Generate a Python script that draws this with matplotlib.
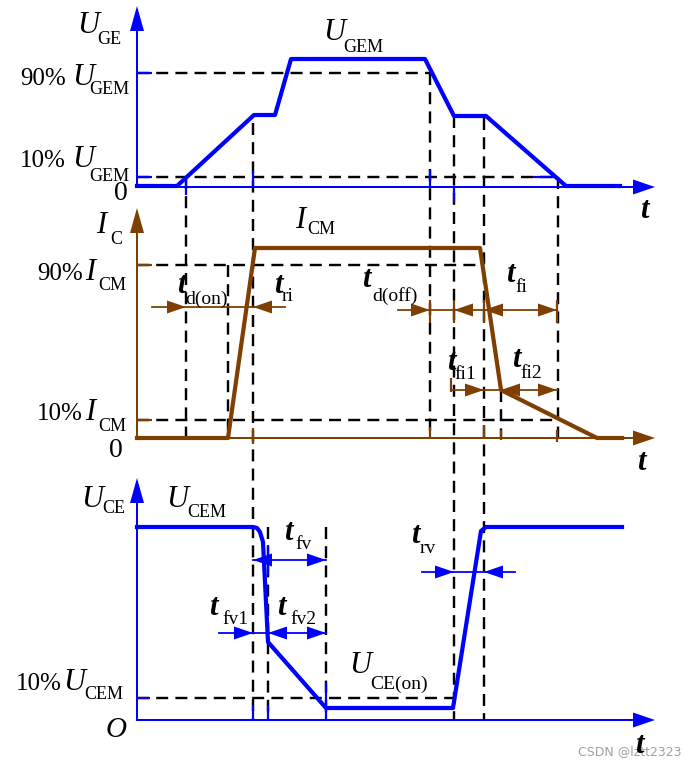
import matplotlib
matplotlib.use("Agg")
import matplotlib.pyplot as plt

BLUE = "#0000ff"
BROWN = "#7f3f00"
FONT = "Liberation Serif"

# ---------------- data (pixel-space diagram coordinates) ----------------
# gate-emitter voltage waveform
t_ge = [137, 177, 254, 275, 291, 425, 454, 486, 566, 620]
u_ge = [186, 186, 115, 115, 59, 59, 116, 116, 186, 186]
# collector current waveform
t_ic = [137, 228, 255, 480, 501, 597, 622]
i_c = [438, 438, 248, 248, 390, 438, 438]
# collector-emitter voltage waveform
t_ce = [137, 253, 257, 260, 263, 268, 326, 453, 481, 486, 622]
u_ce = [527, 527, 528, 532, 542, 642, 708, 708, 531, 527, 527]

# axes origins / baselines
axis_x = 137
base_y = [187, 438, 720]
top_y = [6, 208, 478]
axis_end = 655
axis_colors = [BLUE, BROWN, BLUE]

# reference dashed lines
h_y = [73, 177, 265, 420, 698]
h_x1 = [430, 558, 480, 557, 453]
v_x = [186, 253, 228, 430, 454, 484, 558, 268, 326, 501]
v_y0 = [177, 123, 265, 73, 116, 118, 177, 527, 527, 390]
v_y1 = [438, 720, 438, 438, 720, 720, 438, 720, 720, 438]

# dimension lines: (y, x0, x1, color) and arrow tips (x, direction)
dim_y = [307, 310, 390, 560, 633, 572]
dim_x0 = [152, 398, 451, 253, 219, 422]
dim_x1 = [285, 557, 557, 326, 326, 515]
dim_c = [BROWN, BROWN, BROWN, BLUE, BLUE, BLUE]
dim_tips = [[(186, 1), (253, -1)],
            [(430, 1), (454, -1), (484, -1), (557, 1)],
            [(484, 1), (501, -1), (557, 1)],
            [(253, -1), (326, 1)],
            [(253, 1), (268, -1), (326, 1)],
            [(454, 1), (484, -1)]]

fig = plt.figure(figsize=(6.84, 7.68), dpi=100)
ax = fig.add_axes([0, 0, 1, 1])
ax.set_xlim(0, 684)
ax.set_ylim(768, 0)
ax.axis("off")

PX = 1 / 1.389  # points per pixel

# dashed reference lines
for y, x1 in zip(h_y, h_x1):
    ax.plot([axis_x, x1], [y, y], color="black", lw=2.4 * PX, dashes=(5, 3), zorder=2)
for x, y0, y1 in zip(v_x, v_y0, v_y1):
    ax.plot([x, x], [y0, y1], color="black", lw=2.4 * PX, dashes=(5, 3), zorder=2)

# coloured short ticks
def seg(xs, ys, c, lw=2.2):
    ax.plot(xs, ys, color=c, lw=lw * PX, zorder=3, solid_capstyle="butt")

for y in (73, 177):
    seg([axis_x, 152], [y, y], BLUE)
seg([533, 556], [177, 177], BLUE)
for x, a, b in [(186, 177, 195), (253, 171, 187), (430, 170, 187), (454, 187, 202)]:
    seg([x, x], [a, b], BLUE)
for y in (265, 420):
    seg([axis_x, 152], [y, y], BROWN)
for x, a, b in [(253, 428, 444), (430, 427, 438), (484, 425, 438), (501, 430, 440),
                (557, 430, 442), (430, 300, 323), (454, 300, 323), (484, 300, 323),
                (557, 300, 323), (451, 378, 392)]:
    seg([x, x], [a, b], BROWN)
seg([axis_x, 150], [698, 698], BLUE)
for x, a, b in [(253, 705, 720), (268, 705, 720), (326, 683, 720), (268, 545, 575)]:
    seg([x, x], [a, b], BLUE)

# axes with arrows
def tri(tip_x, tip_y, dx, dy, length, half, c):
    bx, by = tip_x - dx * length, tip_y - dy * length
    px, py = -dy, dx
    ax.fill([tip_x, bx + px * half, bx - px * half],
            [tip_y, by + py * half, by - py * half], color=c, lw=0, zorder=5)

for b, t, c in zip(base_y, top_y, axis_colors):
    ax.plot([axis_x, axis_x], [b, t + 10], color=c, lw=2 * PX, zorder=3)
    ax.plot([axis_x, axis_end - 10], [b, b], color=c, lw=2 * PX, zorder=3)
    tri(axis_x, t, 0, -1, 25, 7, c)
    tri(axis_end, b, 1, 0, 22, 7.5, c)

# waveforms
ax.plot(t_ge, u_ge, color=BLUE, lw=4.2 * PX, zorder=4, solid_joinstyle="round")
ax.plot(t_ic, i_c, color=BROWN, lw=4.2 * PX, zorder=4, solid_joinstyle="round")
ax.plot(t_ce, u_ce, color=BLUE, lw=4.2 * PX, zorder=4, solid_joinstyle="round")

# dimension lines with arrowheads
for y, x0, x1, c, tips in zip(dim_y, dim_x0, dim_x1, dim_c, dim_tips):
    ax.plot([x0, x1], [y, y], color=c, lw=1.8 * PX, zorder=4)
    for tx, d in tips:
        tri(tx, y, d, 0, 19, 6.5, c)

# ---------------- text ----------------
def txt(x, y, s, size, italic=False, bold=False, color="black", ha="left"):
    ax.text(x, y, s, fontsize=size, family=FONT, style="italic" if italic else "normal",
            weight="bold" if bold else "normal", ha=ha, va="baseline",
            color=color, zorder=6)

def lab(x, y, main, sx, sy, sub, size=22, subsize=13, bold=False):
    txt(x, y, main, size, italic=True, bold=bold)
    txt(sx, sy, sub, subsize)

# panel 1
lab(77, 33, "U", 97, 44, "GE")
txt(66, 85, "90%", 18, ha="right")
lab(72, 85, "U", 89, 94, "GEM")
txt(66, 167, "10%", 18, ha="right")
lab(72, 167, "U", 89, 181, "GEM")
txt(114, 200, "0", 20)
lab(323, 40, "U", 343, 52, "GEM")
txt(640, 218, "t", 22, italic=True, bold=True)

# panel 2
lab(96, 233, "I", 110, 244, "C")
txt(83, 280, "90%", 18, ha="right")
lab(85, 280, "I", 98, 290, "CM")
txt(83, 420, "10%", 18, ha="right")
lab(85, 420, "I", 98, 431, "CM")
txt(109, 457, "0", 20)
lab(295, 228, "I", 307, 234, "CM")
lab(177, 293, "t", 185, 304, "d(on)", subsize=14, bold=True)
lab(274, 293, "t", 282, 301, "ri", subsize=14, bold=True)
lab(362, 287, "t", 372, 301, "d(off)", subsize=14, bold=True)
lab(506, 282, "t", 515, 292, "fi", subsize=14, bold=True)
lab(447, 370, "t", 454, 379, "fi1", subsize=14, bold=True)
lab(512, 367, "t", 520, 378, "fi2", subsize=14, bold=True)
txt(637, 470, "t", 22, italic=True, bold=True)

# panel 3
lab(81, 507, "U", 102, 513, "CE")
lab(166, 507, "U", 187, 517, "CEM")
txt(62, 690, "10%", 18, ha="right")
lab(63, 690, "U", 84, 699, "CEM")
txt(106, 737, "O", 21, italic=True)
lab(284, 540, "t", 295, 549, "fv", subsize=14, bold=True)
lab(209, 615, "t", 222, 624, "fv1", subsize=14, bold=True)
lab(277, 615, "t", 290, 624, "fv2", subsize=14, bold=True)
lab(411, 543, "t", 420, 553, "rv", subsize=14, bold=True)
lab(349, 673, "U", 370, 689, "CE(on)", subsize=14)
txt(635, 753, "t", 22, italic=True, bold=True)

ax.text(578, 752, "CSDN @lztt2323", fontsize=9, family="DejaVu Sans", color="#a0a0a0",
        ha="left", va="center", zorder=1)

fig.savefig("out.png", dpi=100)
